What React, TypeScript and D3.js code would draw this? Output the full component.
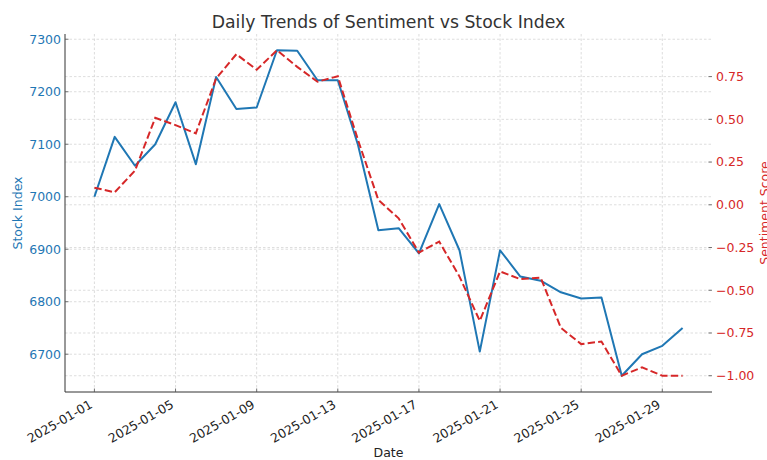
import React, { useRef, useEffect } from 'react';
import * as d3 from 'd3';

const startDate = '2025-01-01';
const stockIndex = [
  7000, 7114, 7059, 7100, 7180, 7062, 7228, 7167, 7170, 7279,
  7278, 7222, 7222, 7098, 6936, 6940, 6892, 6986, 6898, 6705,
  6898, 6848, 6840, 6818, 6806, 6808, 6659, 6700, 6716, 6750,
];
const sentiment = [
  0.1, 0.073, 0.2, 0.509, 0.466, 0.418, 0.739, 0.881, 0.79, 0.904,
  0.807, 0.72, 0.752, 0.378, 0.028, -0.079, -0.28, -0.215, -0.42, -0.679,
  -0.39, -0.435, -0.426, -0.72, -0.815, -0.8, -1.0, -0.951, -1.0, -1.0,
];
const xTickLabels = [
  '2025-01-01', '2025-01-05', '2025-01-09', '2025-01-13',
  '2025-01-17', '2025-01-21', '2025-01-25', '2025-01-29',
];
const stockTicks = [6700, 6800, 6900, 7000, 7100, 7200, 7300];
const sentimentTicks = [-1.0, -0.75, -0.5, -0.25, 0.0, 0.25, 0.5, 0.75];

const BLUE = '#1f77b4';
const RED = '#d62728';
const FONT = 'DejaVu Sans, sans-serif';

const App: React.FC = () => {
  const ref = useRef<SVGSVGElement | null>(null);

  useEffect(() => {
    if (!ref.current) return;
    const width = 767;
    const height = 460;
    const margin = { top: 34, right: 55, bottom: 68, left: 65 };
    const innerW = width - margin.left - margin.right;
    const innerH = height - margin.top - margin.bottom;

    const parse = d3.utcParse('%Y-%m-%d');
    const start = parse(startDate) as Date;
    const dates = stockIndex.map((_, i) => d3.utcDay.offset(start, i));

    const svg = d3.select(ref.current);
    svg.selectAll('*').remove();
    svg.attr('width', width).attr('height', height).style('font-family', FONT);

    const g = svg.append('g').attr('transform', `translate(${margin.left},${margin.top})`);

    // 5% padding like matplotlib
    const xExt = d3.extent(dates) as [Date, Date];
    const span = +xExt[1] - +xExt[0];
    const x = d3
      .scaleUtc()
      .domain([new Date(+xExt[0] - span * 0.05), new Date(+xExt[1] + span * 0.05)])
      .range([0, innerW]);

    const sExt = d3.extent(stockIndex) as [number, number];
    const sPad = (sExt[1] - sExt[0]) * 0.05;
    const yL = d3.scaleLinear().domain([sExt[0] - sPad, sExt[1] + sPad]).range([innerH, 0]);

    const rExt = d3.extent(sentiment) as [number, number];
    const rPad = (rExt[1] - rExt[0]) * 0.05;
    const yR = d3.scaleLinear().domain([rExt[0] - rPad, rExt[1] + rPad]).range([innerH, 0]);

    const xTicks = xTickLabels.map((d) => parse(d) as Date);

    // grids
    const grid = g.append('g').attr('stroke', '#d4d4d4').attr('stroke-width', 0.8).attr('stroke-dasharray', '2.5,2');
    grid.selectAll('.vx').data(xTicks).enter().append('line')
      .attr('x1', (d) => x(d)).attr('x2', (d) => x(d)).attr('y1', 0).attr('y2', innerH);
    grid.selectAll('.hl').data(stockTicks).enter().append('line')
      .attr('x1', 0).attr('x2', innerW).attr('y1', (d) => yL(d)).attr('y2', (d) => yL(d));
    grid.selectAll('.hr').data(sentimentTicks).enter().append('line')
      .attr('x1', 0).attr('x2', innerW).attr('y1', (d) => yR(d)).attr('y2', (d) => yR(d));

    // lines
    const stockLine = d3.line<number>().x((_, i) => x(dates[i])).y((d) => yL(d));
    const sentLine = d3.line<number>().x((_, i) => x(dates[i])).y((d) => yR(d));

    g.append('path').datum(stockIndex).attr('d', stockLine)
      .attr('fill', 'none').attr('stroke', BLUE).attr('stroke-width', 2).attr('stroke-linejoin', 'round');
    g.append('path').datum(sentiment).attr('d', sentLine)
      .attr('fill', 'none').attr('stroke', RED).attr('stroke-width', 2)
      .attr('stroke-dasharray', '7.4,3.2');

    // spines
    g.append('line').attr('x1', 0).attr('x2', 0).attr('y1', 0).attr('y2', innerH)
      .attr('stroke', '#333').attr('stroke-width', 1);
    g.append('line').attr('x1', 0).attr('x2', innerW).attr('y1', innerH).attr('y2', innerH)
      .attr('stroke', '#333').attr('stroke-width', 1);

    // left axis
    const left = g.append('g');
    stockTicks.forEach((t) => {
      left.append('line').attr('x1', 0).attr('x2', 3.5).attr('y1', yL(t)).attr('y2', yL(t))
        .attr('stroke', '#555').attr('stroke-width', 0.8);
      left.append('text').attr('x', -4).attr('y', yL(t)).attr('dy', '0.35em')
        .attr('text-anchor', 'end').attr('fill', BLUE).attr('font-size', 12.5).text(d3.format('d')(t));
    });

    // right axis
    const right = g.append('g');
    const fmtR = d3.format('.2f');
    sentimentTicks.forEach((t) => {
      right.append('line').attr('x1', innerW - 3.5).attr('x2', innerW).attr('y1', yR(t)).attr('y2', yR(t))
        .attr('stroke', '#555').attr('stroke-width', 0.8);
      right.append('text').attr('x', innerW + 4).attr('y', yR(t)).attr('dy', '0.35em')
        .attr('text-anchor', 'start').attr('fill', RED).attr('font-size', 12.5).text(fmtR(t));
    });

    // bottom axis
    const bottom = g.append('g');
    xTicks.forEach((t, i) => {
      bottom.append('line').attr('x1', x(t)).attr('x2', x(t)).attr('y1', innerH - 3.5).attr('y2', innerH)
        .attr('stroke', '#555').attr('stroke-width', 0.8);
      bottom.append('text')
        .attr('transform', `translate(${x(t) - 1},${innerH + 15}) rotate(-30)`)
        .attr('text-anchor', 'end').attr('fill', '#222').attr('font-size', 12.5).text(xTickLabels[i]);
    });

    // labels
    svg.append('text').attr('x', margin.left + innerW / 2).attr('y', 28)
      .attr('text-anchor', 'middle').attr('fill', '#333').attr('font-size', 17.3)
      .text('Daily Trends of Sentiment vs Stock Index');
    svg.append('text').attr('x', margin.left + innerW / 2).attr('y', 457)
      .attr('text-anchor', 'middle').attr('fill', '#222').attr('font-size', 12.5).text('Date');
    svg.append('text')
      .attr('transform', `translate(22,${margin.top + innerH / 2}) rotate(-90)`)
      .attr('text-anchor', 'middle').attr('fill', BLUE).attr('font-size', 12.5).text('Stock Index');
    svg.append('text')
      .attr('transform', `translate(769,${margin.top + innerH / 2}) rotate(-90)`)
      .attr('text-anchor', 'middle').attr('fill', RED).attr('font-size', 12.5).text('Sentiment Score');
  }, []);

  return (
    <div style={{ position: 'absolute', left: 0, top: 0 }}>
      <svg ref={ref}></svg>
    </div>
  );
};

export default App;
